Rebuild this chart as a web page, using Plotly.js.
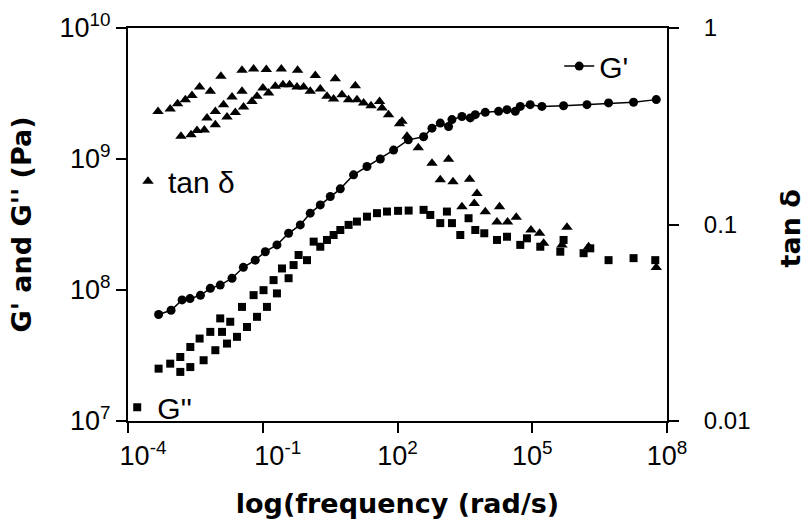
<!DOCTYPE html>
<html>
<head>
<meta charset="utf-8">
<script src="https://cdn.plot.ly/plotly-3.0.1.min.js"></script>
<style>html,body{margin:0;padding:0;background:#fff;}#chart{width:806px;height:529px;}</style>
</head>
<body>
<div id="chart"></div>
<script>
// ---- data ----
const gpFreq = [4.8e-4, 9.1e-4, 1.6e-3, 2.4e-3, 4.1e-3, 6.8e-3, 1.13e-2, 2.07e-2, 3.7e-2, 6.8e-2,
  0.114, 0.207, 0.376, 0.685, 1.14, 1.91, 3.19, 5.33, 10.5, 20.9, 41.4, 81.8, 174, 381, 586, 896,
  1.37e3, 1.63e3, 2.72e3, 4.17e3, 5.39e3, 9.0e3, 1.78e4, 2.74e4, 4.19e4, 5.41e4, 9.0e4, 1.64e5,
  4.98e5, 1.65e6, 5.0e6, 1.8e7, 5.77e7];
const gpVal = [6.5e7, 7.0e7, 8.4e7, 8.6e7, 9.1e7, 1.03e8, 1.09e8, 1.23e8, 1.49e8, 1.69e8,
  1.96e8, 2.21e8, 2.71e8, 3.14e8, 3.86e8, 4.46e8, 5.17e8, 5.92e8, 7.57e8, 8.77e8, 1.0e9, 1.17e9, 1.40e9, 1.48e9, 1.72e9, 1.88e9,
  1.77e9, 2.0e9, 2.11e9, 2.06e9, 2.18e9, 2.27e9, 2.31e9, 2.38e9, 2.31e9, 2.52e9, 2.60e9, 2.52e9,
  2.55e9, 2.60e9, 2.68e9, 2.71e9, 2.84e9];

const gppFreq = [4.8e-4, 8.7e-4, 1.46e-3, 1.46e-3, 2.44e-3, 2.44e-3, 3.93e-3, 4.82e-3, 6.8e-3, 8.8e-3,
  1.13e-2, 1.24e-2, 1.60e-2, 1.89e-2, 2.67e-2, 3.45e-2, 4.46e-2, 6.25e-2, 7.44e-2, 0.104,
  0.124, 0.174, 0.207, 0.268, 0.376, 0.486, 0.628, 0.966, 1.36, 1.91,
  2.69, 3.78, 5.33, 8.15, 12.5, 20.9, 34.9, 58.3, 103, 177,
  381, 537, 896, 1.26e3, 1.63e3, 2.50e3, 3.82e3, 5.39e3, 8.55e3, 1.64e4,
  2.74e4, 5.41e4, 7.62e4, 1.51e5, 4.21e5, 4.98e5, 1.39e6, 1.96e6, 5.0e6, 1.8e7, 5.48e7];
const gppVal = [2.51e7, 2.74e7, 2.37e7, 3.08e7, 2.58e7, 3.67e7, 4.26e7, 2.91e7, 4.79e7, 3.47e7,
  6.07e7, 4.79e7, 3.90e7, 5.72e7, 4.39e7, 7.43e7, 5.22e7, 9.14e7, 6.24e7, 9.97e7,
  7.43e7, 1.19e8, 9.42e7, 1.46e8, 1.23e8, 1.55e8, 1.85e8, 1.69e8, 2.34e8, 2.14e8,
  2.41e8, 2.63e8, 2.87e8, 3.14e8, 3.33e8, 3.63e8, 3.86e8, 3.97e8, 4.02e8, 4.04e8,
  4.09e8, 3.74e8, 3.24e8, 3.97e8, 3.24e8, 2.63e8, 3.53e8, 2.87e8, 2.71e8, 2.41e8,
  2.55e8, 2.21e8, 2.48e8, 2.14e8, 1.96e8, 2.41e8, 1.91e8, 2.08e8, 1.69e8, 1.75e8, 1.69e8];

const tanFreq = [4.66e-4, 8.7e-4, 1.27e-3, 1.51e-3, 1.89e-3, 2.53e-3, 2.66e-3, 3.44e-3, 3.93e-3, 5.0e-3,
  5.74e-3, 6.8e-3, 8.8e-3, 8.8e-3, 1.17e-2, 1.34e-2, 1.60e-2, 2.07e-2, 2.45e-2, 3.45e-2,
  3.45e-2, 3.74e-2, 5.75e-2, 6.25e-2, 7.44e-2, 0.101, 0.120, 0.135, 0.190, 0.259,
  0.282, 0.396, 0.578, 0.597, 0.811, 1.14, 1.48, 1.91, 2.69, 3.78,
  4.12, 5.81, 8.15, 11.5, 12.5, 17.6, 25.7, 39.9, 45.2, 63.2,
  111, 126, 163, 290, 586, 896, 1.37e3, 1.72e3, 2.72e3, 4.03e3,
  5.12e3, 5.88e3, 9.0e3, 1.64e4, 1.87e4, 2.82e4, 4.40e4, 9.35e4, 1.46e5, 1.79e5,
  4.59e5, 5.93e5, 1.80e6, 5.77e7];
const tanVal = [0.376, 0.387, 0.412, 0.281, 0.432, 0.286, 0.453, 0.301, 0.501, 0.303,
  0.348, 0.476, 0.322, 0.376, 0.568, 0.407, 0.352, 0.446, 0.372, 0.609,
  0.476, 0.396, 0.423, 0.619, 0.449, 0.495, 0.614, 0.467, 0.505, 0.619,
  0.515, 0.515, 0.501, 0.609, 0.501, 0.476, 0.573, 0.490, 0.449, 0.435,
  0.551, 0.458, 0.432, 0.509, 0.432, 0.415, 0.402, 0.423, 0.392, 0.362,
  0.326, 0.335, 0.281, 0.246, 0.205, 0.169, 0.215, 0.165, 0.123, 0.170,
  0.128, 0.144, 0.116, 0.103, 0.123, 0.103, 0.109, 0.0938, 0.0902, 0.0802,
  0.0786, 0.0968, 0.0771, 0.0605];

const xTickVals = [1e-4, 1e-1, 1e2, 1e5, 1e8];
const xTickText = ['\u00a0\u00a0\u00a0\u00a010<sup>-4</sup>', '\u00a0\u00a0\u00a0\u00a010<sup>-1</sup>',
  '10<sup>2</sup>', '10<sup>5</sup>', '10<sup>8</sup>'];
const yTickVals = [1e7, 1e8, 1e9, 1e10];
const yTickText = ['10<sup>7</sup>', '10<sup>8</sup>', '10<sup>9</sup>', '10<sup>10</sup>'];
const y2TickVals = [0.01, 0.1, 1];
const y2TickText = ['\u00a0\u00a0\u00a00.01', '\u00a0\u00a0\u00a00.1', '\u00a0\u00a0\u00a01'];

// ---- styling ----
const tickFont = {family: 'Liberation Sans, Arial, sans-serif', size: 27, color: '#000'};
const y2TickFont = {family: 'Liberation Sans, Arial, sans-serif', size: 24, color: '#000'};
const titleFont = {family: 'DejaVu Sans, sans-serif', size: 27, color: '#000'};
const legFont = {family: 'Liberation Sans, Arial, sans-serif', size: 30, color: '#000'};

const traces = [
  {x: gpFreq, y: gpVal, name: "G'", type: 'scatter', mode: 'lines+markers',
   line: {color: '#000', width: 1.5}, marker: {symbol: 'circle', size: 9, color: '#000'},
   legend: 'legend'},
  {x: gppFreq, y: gppVal, name: "G''", type: 'scatter', mode: 'markers',
   marker: {symbol: 'square', size: 8, color: '#000'}, legend: 'legend2'},
  {x: tanFreq, y: tanVal, name: 'tan δ', type: 'scatter', mode: 'markers', yaxis: 'y2',
   marker: {symbol: 'triangle-up', size: 10, color: '#000'}, legend: 'legend3'}
];

const legBase = {bgcolor: 'rgba(0,0,0,0)', borderwidth: 0, font: legFont, yanchor: 'middle', xanchor: 'left'};

const layout = {
  width: 806, height: 529,
  margin: {l: 128, r: 139, t: 28, b: 108},
  paper_bgcolor: '#fff', plot_bgcolor: '#fff',
  showlegend: true,
  xaxis: {
    type: 'log', range: [-4, 8], tickmode: 'array', tickvals: xTickVals, ticktext: xTickText,
    ticks: 'outside', ticklen: 10, tickwidth: 2, tickcolor: '#000',
    showline: true, linecolor: '#000', linewidth: 2, mirror: true,
    showgrid: false, zeroline: false, tickfont: tickFont,
    title: {text: '<b>log(frequency (rad/s)</b>', font: titleFont, standoff: 24}
  },
  yaxis: {
    type: 'log', range: [7, 10], tickmode: 'array', tickvals: yTickVals, ticktext: yTickText,
    ticks: 'outside', ticklen: 10, tickwidth: 2, tickcolor: '#000',
    showline: true, linecolor: '#000', linewidth: 2,
    showgrid: false, zeroline: false, tickfont: tickFont,
    title: {text: "<b>G' and G'' (Pa)</b>", font: titleFont, standoff: 20}
  },
  yaxis2: {
    type: 'log', range: [-2, 0], overlaying: 'y', side: 'right', anchor: 'x',
    tickmode: 'array', tickvals: y2TickVals, ticktext: y2TickText,
    ticks: 'outside', ticklen: 10, tickwidth: 2, tickcolor: '#000',
    showline: true, linecolor: '#000', linewidth: 2,
    showgrid: false, zeroline: false, tickfont: y2TickFont
  },
  yaxis3: {
    type: 'log', range: [-2, 0], overlaying: 'y', side: 'right', anchor: 'x',
    tickmode: 'array', tickvals: y2TickVals, showticklabels: false,
    ticks: 'inside', ticklen: 10, tickwidth: 2, tickcolor: '#000',
    showline: false, showgrid: false, zeroline: false
  },
  legend: Object.assign({}, legBase, {x: 0.80, y: 0.903}),
  legend2: Object.assign({}, legBase, {x: -0.02, y: 0.035}),
  legend3: Object.assign({}, legBase, {x: 0.0, y: 0.61}),
  annotations: [
    {text: '<b>tan δ</b>', xref: 'paper', yref: 'paper', x: 1.229, y: 0.491,
     xanchor: 'center', yanchor: 'middle', textangle: -90, showarrow: false, font: titleFont}
  ]
};

Plotly.newPlot('chart', traces, layout, {displayModeBar: false, staticPlot: true});
</script>
</body>
</html>
